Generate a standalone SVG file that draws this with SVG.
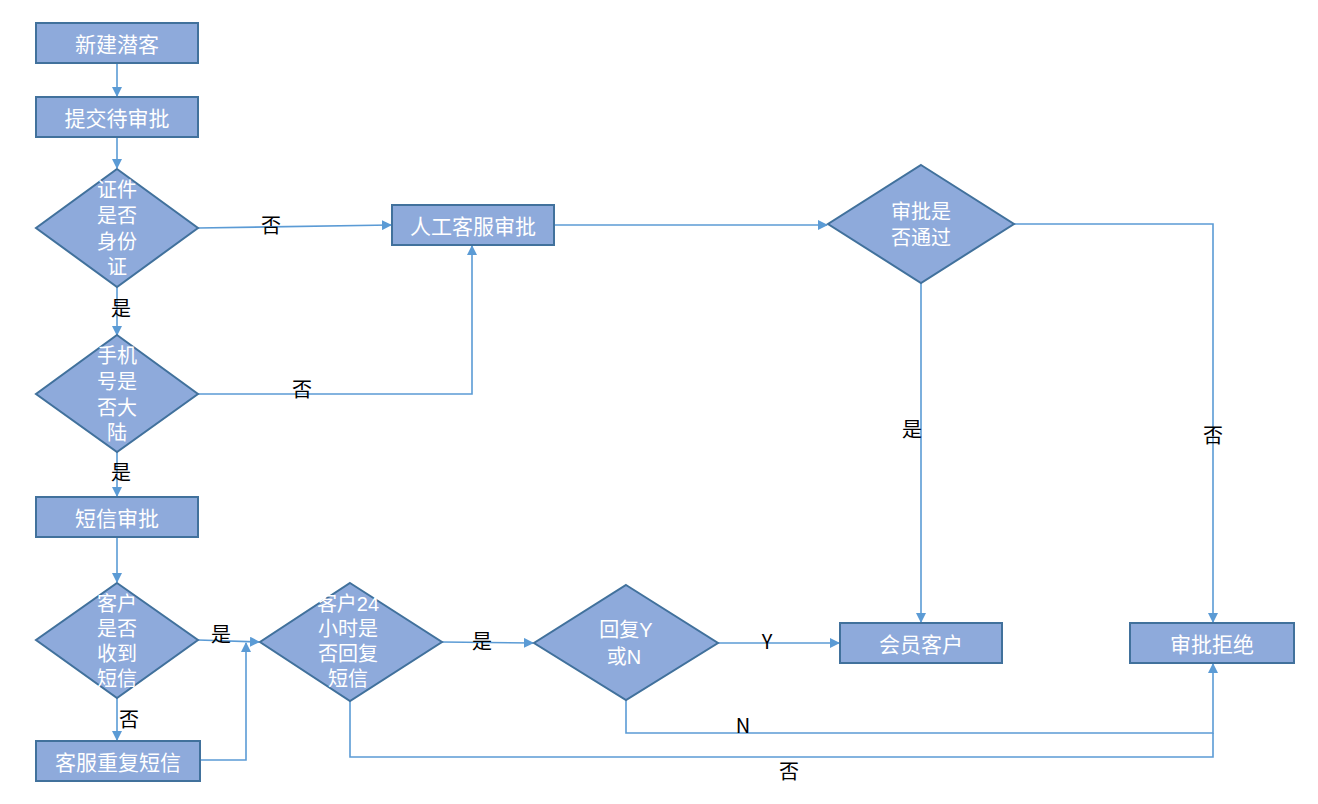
<svg xmlns="http://www.w3.org/2000/svg" width="1318" height="804" viewBox="0 0 1318 804">
<style>
.n{fill:#8EAADB;stroke:#41719C;stroke-width:2}
.t{fill:#fff;font-family:"Noto Sans CJK SC","Liberation Sans",sans-serif;font-size:21px;text-anchor:middle;dominant-baseline:central}
.d{fill:#fff;font-family:"Liberation Sans","Noto Sans CJK SC",sans-serif;font-size:20px;text-anchor:middle}
.l{fill:#000;font-family:"Noto Sans CJK SC","Liberation Sans",sans-serif;font-size:20px;text-anchor:middle;dominant-baseline:central}
.c{fill:none;stroke:#5B9BD5;stroke-width:1.6}
</style>
<defs>
<marker id="a" markerWidth="10" markerHeight="10" refX="9" refY="5" orient="auto" markerUnits="userSpaceOnUse">
<path d="M0,0 L10,5 L0,10 Z" fill="#5B9BD5"/>
</marker>
</defs>
<rect width="1318" height="804" fill="#fff"/>
<g id="connectors">
<path class="c" d="M117,63 V96" marker-end="url(#a)"/>
<path class="c" d="M117,137 V168" marker-end="url(#a)"/>
<path class="c" d="M198,228 L391,225" marker-end="url(#a)"/>
<path class="c" d="M117,287 V335" marker-end="url(#a)"/>
<path class="c" d="M198,394 H472 V246" marker-end="url(#a)"/>
<path class="c" d="M117,452 V496" marker-end="url(#a)"/>
<path class="c" d="M117,537 V582" marker-end="url(#a)"/>
<path class="c" d="M198,640 L259,642" marker-end="url(#a)"/>
<path class="c" d="M117,698 V740" marker-end="url(#a)"/>
<path class="c" d="M200,760 H246 V643" marker-end="url(#a)"/>
<path class="c" d="M442,642 L533,643" marker-end="url(#a)"/>
<path class="c" d="M718,643 H839" marker-end="url(#a)"/>
<path class="c" d="M626,700 V733 H1213 V664" marker-end="url(#a)"/>
<path class="c" d="M350,701 V757 H1213 V733"/>
<path class="c" d="M554,225 H827" marker-end="url(#a)"/>
<path class="c" d="M921,283 V622" marker-end="url(#a)"/>
<path class="c" d="M1014,224 H1213 V622" marker-end="url(#a)"/>
<text class="l" x="271" y="224">否</text>
<text class="l" x="121" y="307">是</text>
<text class="l" x="302" y="388">否</text>
<text class="l" x="121" y="471">是</text>
<text class="l" x="221" y="633">是</text>
<text class="l" x="129" y="718">否</text>
<text class="l" x="482" y="640">是</text>
<text class="l" x="767" y="640">Y</text>
<text class="l" x="743" y="724">N</text>
<text class="l" x="789" y="770">否</text>
<text class="l" x="912" y="428">是</text>
<text class="l" x="1213" y="434">否</text>
</g>
<g id="n1"><rect class="n" x="36" y="23" width="162" height="40"/><text class="t" x="117" y="43">新建潜客</text></g>
<g id="n2"><rect class="n" x="36" y="97" width="162" height="40"/><text class="t" x="117" y="117">提交待审批</text></g>
<g id="d1"><polygon class="n" points="117,169 198,228 117,287 36,228"/>
<text class="d" x="117" y="197"><tspan x="117">证件</tspan><tspan x="117" dy="26">是否</tspan><tspan x="117" dy="26">身份</tspan><tspan x="117" dy="25">证</tspan></text></g>
<g id="d2"><polygon class="n" points="117,335 198,394 117,452 36,394"/>
<text class="d" x="117" y="363"><tspan x="117">手机</tspan><tspan x="117" dy="26">号是</tspan><tspan x="117" dy="26">否大</tspan><tspan x="117" dy="25">陆</tspan></text></g>
<g id="n3"><rect class="n" x="36" y="497" width="162" height="40"/><text class="t" x="117" y="517">短信审批</text></g>
<g id="d3"><polygon class="n" points="117,583 198,640 117,698 36,640"/>
<text class="d" x="117" y="611"><tspan x="117">客户</tspan><tspan x="117" dy="25">是否</tspan><tspan x="117" dy="25">收到</tspan><tspan x="117" dy="25">短信</tspan></text></g>
<g id="n4"><rect class="n" x="36" y="741" width="164" height="40"/><text class="t" x="118" y="761">客服重复短信</text></g>
<g id="d4"><polygon class="n" points="350,583 442,642 350,701 260,642"/>
<text class="d" x="348" y="611"><tspan x="348">客户24</tspan><tspan x="348" dy="25">小时是</tspan><tspan x="348" dy="25">否回复</tspan><tspan x="348" dy="25">短信</tspan></text></g>
<g id="d5"><polygon class="n" points="626,585 718,643 626,700 534,643"/>
<text class="d" x="626" y="637"><tspan x="626">回复Y</tspan><tspan x="624" dy="27">或N</tspan></text></g>
<g id="n5"><rect class="n" x="840" y="623" width="162" height="40"/><text class="t" x="921" y="643">会员客户</text></g>
<g id="n6"><rect class="n" x="1130" y="623" width="164" height="40"/><text class="t" x="1212" y="643">审批拒绝</text></g>
<g id="n7"><rect class="n" x="392" y="205" width="162" height="40"/><text class="t" x="473" y="225">人工客服审批</text></g>
<g id="d6"><polygon class="n" points="921,165 1014,224 921,283 828,224"/>
<text class="d" x="921" y="219"><tspan x="921">审批是</tspan><tspan x="921" dy="26">否通过</tspan></text></g>
</svg>
